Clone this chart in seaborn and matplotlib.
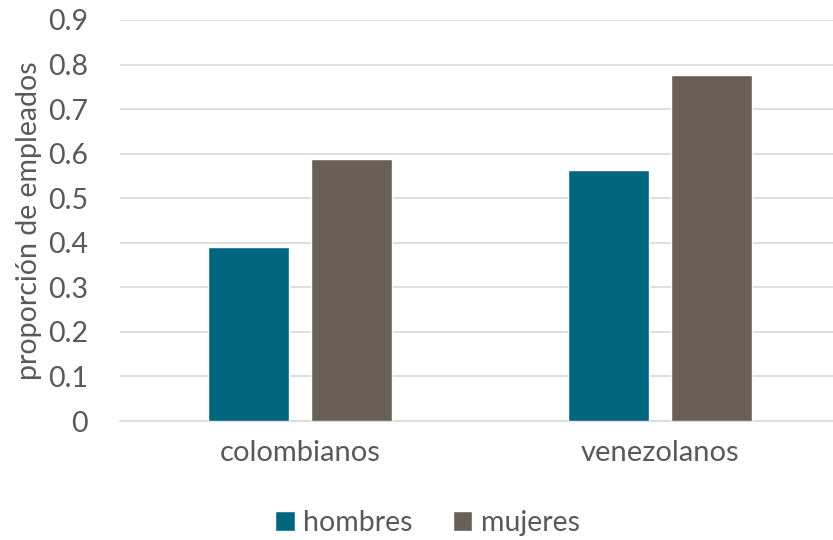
import pandas as pd
import matplotlib.pyplot as plt
import seaborn as sns
from matplotlib.patches import Patch

# data
grupos = ['colombianos', 'venezolanos']
hombres = [0.39, 0.563]
mujeres = [0.587, 0.776]
series = ['hombres', 'mujeres']
colores = ['#00657F', '#686056']

df = pd.DataFrame({
    'grupo': grupos * 2,
    'sexo': ['hombres'] * 2 + ['mujeres'] * 2,
    'valor': hombres + mujeres,
})

sns.set_style('white')
plt.rcParams['font.family'] = ['Lato', 'DejaVu Sans']
gris = '#595959'

fig = plt.figure(figsize=(8.33, 5.4), dpi=100)
ax = fig.add_axes([120/833, 119/540, 713/833, 401/540])

sns.barplot(data=df, x='grupo', y='valor', hue='sexo', order=grupos,
            hue_order=series, palette=colores, width=0.57, gap=0.21,
            saturation=1, ax=ax, legend=False, zorder=3)

ax.set_ylim(0, 0.9)
ax.set_xlim(-0.5, 1.48)
ax.set_yticks([i / 10 for i in range(10)])
ax.set_yticklabels(['0'] + ['%.1f' % (i / 10) for i in range(1, 10)])
ax.yaxis.grid(True, color='#D9D9D9', linewidth=1.2, zorder=0)
for s in ['top', 'right', 'left']:
    ax.spines[s].set_visible(False)
ax.spines['bottom'].set_color('#D9D9D9')
ax.spines['bottom'].set_linewidth(1.2)
ax.tick_params(axis='y', length=0, labelsize=20.5, colors=gris, pad=23)
ax.tick_params(axis='x', length=0, labelsize=21, colors=gris, pad=14)
ax.set_xlabel('')
ax.set_ylabel('proporción de empleados', fontsize=20.5, color=gris, labelpad=4)

handles = [Patch(facecolor=c, label=l) for c, l in zip(colores, series)]
fig.legend(handles=handles, loc='center', bbox_to_anchor=(0.513, 0.032),
           ncol=2, frameon=False, fontsize=20.5, labelcolor=gris,
           handlelength=0.7, handleheight=0.7, handletextpad=0.3,
           columnspacing=1.4)

fig.savefig('out.png', dpi=100, facecolor='white')
